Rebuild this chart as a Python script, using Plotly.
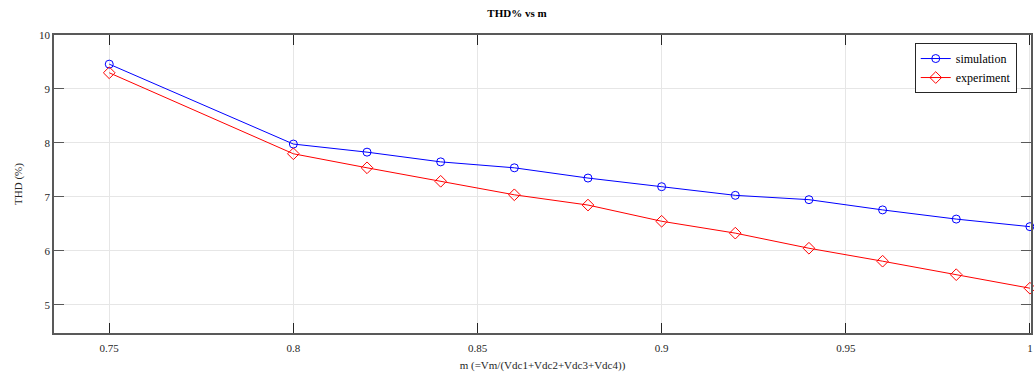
import plotly.graph_objects as go

m_values = [0.75, 0.80, 0.82, 0.84, 0.86, 0.88, 0.90, 0.92, 0.94, 0.96, 0.98, 1.00]
thd_simulation = [9.46, 7.98, 7.83, 7.65, 7.54, 7.35, 7.19, 7.03, 6.95, 6.76, 6.59, 6.45]
thd_experiment = [9.30, 7.80, 7.54, 7.29, 7.04, 6.85, 6.55, 6.33, 6.05, 5.81, 5.56, 5.31]
x_ticks = [0.75, 0.8, 0.85, 0.9, 0.95, 1.0]
x_tick_labels = ["0.75", "0.8", "0.85", "0.9", "0.95", "1"]
y_ticks = [5, 6, 7, 8, 9, 10]

font_family = "Liberation Serif"
axis_col = "#595959"
text_col = "#262626"

fig = go.Figure()
fig.add_trace(go.Scatter(
    x=m_values, y=thd_simulation, name="simulation", mode="lines+markers",
    line=dict(color="#0000ff", width=1),
    marker=dict(symbol="circle-open", size=8, color="#0000ff", line=dict(width=1)),
    cliponaxis=False,
))
fig.add_trace(go.Scatter(
    x=m_values, y=thd_experiment, name="experiment", mode="lines+markers",
    line=dict(color="#ff0000", width=1),
    marker=dict(symbol="diamond-open", size=9, color="#ff0000", line=dict(width=1)),
    cliponaxis=False,
))

fig.update_layout(
    width=1034, height=375,
    margin=dict(l=54, r=3, t=35, b=42, autoexpand=False),
    paper_bgcolor="white", plot_bgcolor="white",
    font=dict(family=font_family, size=11, color=text_col),
    title=dict(text="<b>THD% vs m</b>", x=0.5, xanchor="center", y=0.975, yanchor="top",
               font=dict(family=font_family, size=11, color="black")),
    legend=dict(x=0.881, y=0.973, xanchor="left", yanchor="top",
                bgcolor="white", bordercolor=text_col, borderwidth=1,
                font=dict(family=font_family, size=12, color="black"),
                itemwidth=30, tracegroupgap=0),
    showlegend=True,
)
fig.update_xaxes(
    range=[0.735, 1.0003], tickvals=x_ticks, ticktext=x_tick_labels, automargin=False,
    showline=True, linecolor=axis_col, linewidth=1.5, mirror="ticks",
    ticks="inside", ticklen=10, tickcolor=text_col, tickwidth=1,
    ticklabelstandoff=4,
    showgrid=True, gridcolor="#e6e6e6", gridwidth=1, zeroline=False,
    title=dict(text="m (=Vm/(Vdc1+Vdc2+Vdc3+Vdc4))", standoff=8,
               font=dict(family=font_family, size=11, color=text_col)),
    tickfont=dict(family=font_family, size=11, color=text_col),
)
fig.update_yaxes(
    range=[4.48, 10.0], tickvals=y_ticks, automargin=False,
    showline=True, linecolor=axis_col, linewidth=1.5, mirror="ticks",
    ticks="inside", ticklen=10, tickcolor=axis_col, tickwidth=1,
    showgrid=True, gridcolor="#e6e6e6", gridwidth=1, zeroline=False,
    title=dict(text="THD (%)", standoff=14,
               font=dict(family=font_family, size=11, color=text_col)),
    tickfont=dict(family=font_family, size=11, color=text_col),
)

fig.write_html("out.html", config={"displayModeBar": False},
               post_script="document.body.style.margin='0px';")
